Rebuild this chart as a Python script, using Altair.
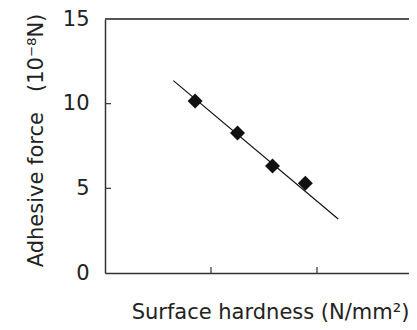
import altair as alt
import pandas as pd

# data
hardness = [0.85, 1.25, 1.58, 1.89]
force = [10.16, 8.27, 6.32, 5.30]
fit_x = [0.645, 2.20]
fit_y = [11.36, 3.19]
y_ticks = [5, 10]
x_ticks = [1, 2]

W, H = 304, 254
FONT = "DejaVu Sans"
AX = "#333333"

pts = pd.DataFrame({"x": hardness, "y": force})
fit = pd.DataFrame({"x": fit_x, "y": fit_y})
yt = pd.DataFrame({"y": y_ticks})
xt = pd.DataFrame({"x": x_ticks})

xscale = alt.Scale(domain=[0, 2.868], nice=False, zero=False)
yscale = alt.Scale(domain=[0, 15], nice=False)

xaxis = alt.Axis(title="Surface hardness (N/mm²)", labels=False, ticks=False, grid=False,
                 domainColor=AX, domainWidth=1.5, titleFont=FONT, titleFontSize=21,
                 titleFontWeight="normal", titleColor="#222", titleY=45,
                 titleBaseline="alphabetic", titleX=165, titleAlign="center")
yaxis = alt.Axis(title="Adhesive force\u00a0\u00a0\u00a0(10⁻⁸N)", values=[0, 5, 10, 15], ticks=False, grid=False,
                 domainColor=AX, domainWidth=1.5, labelFont=FONT, labelFontSize=21,
                 labelColor="#222", labelPadding=16, titleFont=FONT, titleFontSize=21,
                 titleFontWeight="normal", titleColor="#222", titleX=-63, titleY=121,
                 titleBaseline="alphabetic", titleAngle=-90, titleAlign="center")

line = alt.Chart(fit).mark_line(color="#111", strokeWidth=1.2).encode(
    x=alt.X("x:Q", scale=xscale, axis=xaxis),
    y=alt.Y("y:Q", scale=yscale, axis=yaxis),
)
points = alt.Chart(pts).mark_point(shape="diamond", filled=True, size=225, color="#111", opacity=1).encode(
    x=alt.X("x:Q", scale=xscale),
    y=alt.Y("y:Q", scale=yscale),
)
ytk = alt.Chart(yt).mark_rule(color=AX, strokeWidth=1.2).encode(
    y=alt.Y("y:Q", scale=yscale), x=alt.value(0), x2=alt.value(6))
xtk = alt.Chart(xt).mark_rule(color=AX, strokeWidth=1.2).encode(
    x=alt.X("x:Q", scale=xscale), y=alt.value(H), y2=alt.value(H - 6))
top = alt.Chart(pd.DataFrame({"y": [15]})).mark_rule(color="#555", strokeWidth=2).encode(
    y=alt.Y("y:Q", scale=yscale), x=alt.value(0), x2=alt.value(W))

chart = alt.layer(line, points, ytk, xtk, top).properties(
    width=W, height=H,
    autosize=alt.AutoSizeParams(type="none"),
    padding={"left": 97, "top": 11, "right": 0, "bottom": 49},
).configure_view(stroke=None).configure(background="white")

chart.save("out.html", embed_options={"renderer": "svg", "actions": False})
